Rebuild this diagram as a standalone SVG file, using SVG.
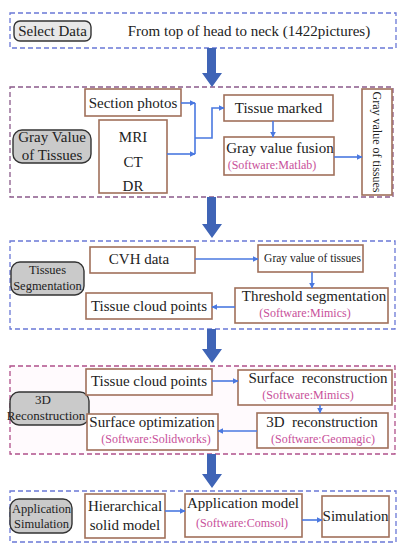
<svg xmlns="http://www.w3.org/2000/svg" width="408" height="550" viewBox="0 0 408 550">
<defs>
<marker id="ah" viewBox="0 0 10 10" refX="9" refY="5" markerWidth="6" markerHeight="6" markerUnits="userSpaceOnUse" orient="auto">
<path d="M0,0 L10,5 L0,10 z" fill="#4a78e0"/>
</marker>
<style>
text{font-family:"Liberation Serif","Times New Roman",serif;fill:#222;}
.t15{font-size:15px;}
.sw{font-size:12px;fill:#c8509a;}
.sec-b{fill:none;stroke:#6a78d6;stroke-width:1.3;stroke-dasharray:5 3;}
.sec-p{fill:none;stroke:#8a5a8a;stroke-width:1.3;stroke-dasharray:5 3;}
.sec-m{fill:#fffafd;stroke:#b0508a;stroke-width:1.3;stroke-dasharray:5 3;}
.box{fill:#fff;stroke:#a0705a;stroke-width:1.6;}
.lab{fill:#cacaca;stroke:#333;stroke-width:1.4;}
.lab2{fill:#e8e8e8;stroke:#333;stroke-width:1.4;}
.con{fill:none;stroke:#4a78e0;stroke-width:1.6;}
.big{fill:#3f64b6;}
</style>
</defs>

<g id="sections">
<rect class="sec-b" x="10" y="13" width="386" height="35"/>
<rect class="sec-p" x="10" y="87" width="383" height="110"/>
<rect class="sec-b" x="10" y="241" width="385" height="88"/>
<rect class="sec-m" x="10" y="366" width="385" height="88"/>
<rect class="sec-b" x="10" y="491" width="386" height="51"/>
</g>

<g id="big-arrows">
<path class="big" d="M207,48 H216 V73 H222 L212,87 L202,73 H207 Z"/>
<path class="big" d="M207,197 H216 V224 H222 L212,238 L202,224 H207 Z"/>
<path class="big" d="M207,329 H216 V349 H222 L212,363 L202,349 H207 Z"/>
<path class="big" d="M207,454 H216 V474 H222 L212,488 L202,474 H207 Z"/>
</g>

<g id="n-select">
<rect class="lab2" x="14" y="21" width="77" height="20" rx="6"/>
<text class="t15" x="52.5" y="36" text-anchor="middle">Select Data</text>
</g>
<g id="n-from">
<text class="t15" x="249" y="36" text-anchor="middle">From top of head to neck (1422pictures)</text>
</g>

<g id="n-grayvalue-label">
<rect class="lab" x="13" y="130" width="78" height="33" rx="9"/>
<text class="t15" x="52" y="142" text-anchor="middle">Gray Value</text>
<text class="t15" x="52" y="160" text-anchor="middle">of Tissues</text>
</g>
<g id="n-section-photos">
<rect class="box" x="85" y="89" width="96" height="27"/>
<text class="t15" x="133" y="108" text-anchor="middle">Section photos</text>
</g>
<g id="n-mri">
<rect class="box" x="99" y="120" width="68" height="73"/>
<text class="t15" x="133" y="142" text-anchor="middle">MRI</text>
<text class="t15" x="133" y="167" text-anchor="middle">CT</text>
<text class="t15" x="133" y="191" text-anchor="middle">DR</text>
</g>
<g id="n-tissue-marked">
<rect class="box" x="224" y="95" width="109" height="26"/>
<text class="t15" x="278.5" y="113" text-anchor="middle">Tissue marked</text>
</g>
<g id="n-fusion">
<rect class="box" x="224" y="137" width="110" height="38"/>
<text class="t15" x="280" y="153" text-anchor="middle">Gray value fusion</text>
<text class="sw" x="272" y="169" text-anchor="middle" font-size="11">(Software:Matlab)</text>
</g>
<g id="n-gray-tissues-v">
<rect class="box" x="362" y="89" width="30" height="106"/>
<text x="377" y="142" font-size="12" text-anchor="middle" transform="rotate(90 377 142)" dy="4">Gray value of tissues</text>
</g>

<g id="n-seg-label">
<rect class="lab" x="11" y="262" width="73" height="33" rx="9"/>
<text x="47.5" y="274" font-size="12.5" text-anchor="middle">Tissues</text>
<text x="47.5" y="290" font-size="12.5" text-anchor="middle">Segmentation</text>
</g>
<g id="n-cvh">
<rect class="box" x="90" y="247" width="105" height="26"/>
<text class="t15" x="139" y="264" text-anchor="middle">CVH data</text>
</g>
<g id="n-gray-tissues">
<rect class="box" x="258" y="245" width="105" height="27"/>
<text x="312.5" y="262" font-size="11.5" text-anchor="middle">Gray value of tissues</text>
</g>
<g id="n-threshold">
<rect class="box" x="235" y="288" width="153" height="35"/>
<text class="t15" x="314" y="301" text-anchor="middle">Threshold segmentation</text>
<text class="sw" x="305" y="317" text-anchor="middle">(Software:Mimics)</text>
</g>
<g id="n-cloud1">
<rect class="box" x="86" y="293" width="126" height="26"/>
<text class="t15" x="149" y="311" text-anchor="middle">Tissue cloud points</text>
</g>

<g id="n-recon-label">
<rect class="lab" x="10" y="392" width="79" height="33" rx="9"/>
<text x="43" y="404" font-size="13" text-anchor="middle">3D</text>
<text x="46" y="420" font-size="13" text-anchor="middle">Reconstruction</text>
</g>
<g id="n-cloud2">
<rect class="box" x="86" y="369" width="126" height="26"/>
<text class="t15" x="149" y="386" text-anchor="middle">Tissue cloud points</text>
</g>
<g id="n-surface-recon">
<rect class="box" x="238" y="370" width="154" height="35"/>
<text class="t15" x="318" y="383" text-anchor="middle" xml:space="preserve">Surface  reconstruction</text>
<text class="sw" x="308" y="399" text-anchor="middle">(Software:Mimics)</text>
</g>
<g id="n-3d-recon">
<rect class="box" x="257" y="413" width="131" height="35"/>
<text class="t15" x="322" y="427" text-anchor="middle" xml:space="preserve">3D  reconstruction</text>
<text class="sw" x="323" y="443" text-anchor="middle">(Software:Geomagic)</text>
</g>
<g id="n-surface-opt">
<rect class="box" x="87" y="414" width="131" height="36"/>
<text class="t15" x="152" y="427" text-anchor="middle">Surface optimization</text>
<text class="sw" x="156" y="443" text-anchor="middle">(Software:Solidworks)</text>
</g>

<g id="n-app-label">
<rect class="lab" x="10" y="499" width="62" height="34" rx="9"/>
<text x="41.5" y="513" font-size="12.5" text-anchor="middle">Application</text>
<text x="41.5" y="528" font-size="12.5" text-anchor="middle">Simulation</text>
</g>
<g id="n-hier">
<rect class="box" x="85" y="494" width="80" height="44"/>
<text class="t15" x="125" y="511" text-anchor="middle">Hierarchical</text>
<text class="t15" x="125" y="530" text-anchor="middle">solid model</text>
</g>
<g id="n-app-model">
<rect class="box" x="185" y="494" width="117" height="43"/>
<text class="t15" x="243" y="508" text-anchor="middle">Application model</text>
<text class="sw" x="242" y="527" text-anchor="middle">(Software:Comsol)</text>
</g>
<g id="n-simulation">
<rect class="box" x="322" y="496" width="67" height="41"/>
<text class="t15" x="355.5" y="521" text-anchor="middle">Simulation</text>
</g>

<g id="connectors">
<path class="con" d="M181,103 H195" marker-end="url(#ah)"/>
<path class="con" d="M167,154 H195" marker-end="url(#ah)"/>
<path class="con" d="M195,103 V154 M195,138 H212 V108 H224" marker-end="url(#ah)"/>
<path class="con" d="M273,121 V137" marker-end="url(#ah)"/>
<path class="con" d="M334,157 H362" marker-end="url(#ah)"/>
<path class="con" d="M195,259 H258" marker-end="url(#ah)"/>
<path class="con" d="M312,272 V288" marker-end="url(#ah)"/>
<path class="con" d="M235,307 H212" marker-end="url(#ah)"/>
<path class="con" d="M212,381 H238" marker-end="url(#ah)"/>
<path class="con" d="M320,405 V413" marker-end="url(#ah)"/>
<path class="con" d="M257,431 H218" marker-end="url(#ah)"/>
<path class="con" d="M165,511 H185" marker-end="url(#ah)"/>
<path class="con" d="M302,520 H322" marker-end="url(#ah)"/>
</g>
</svg>
